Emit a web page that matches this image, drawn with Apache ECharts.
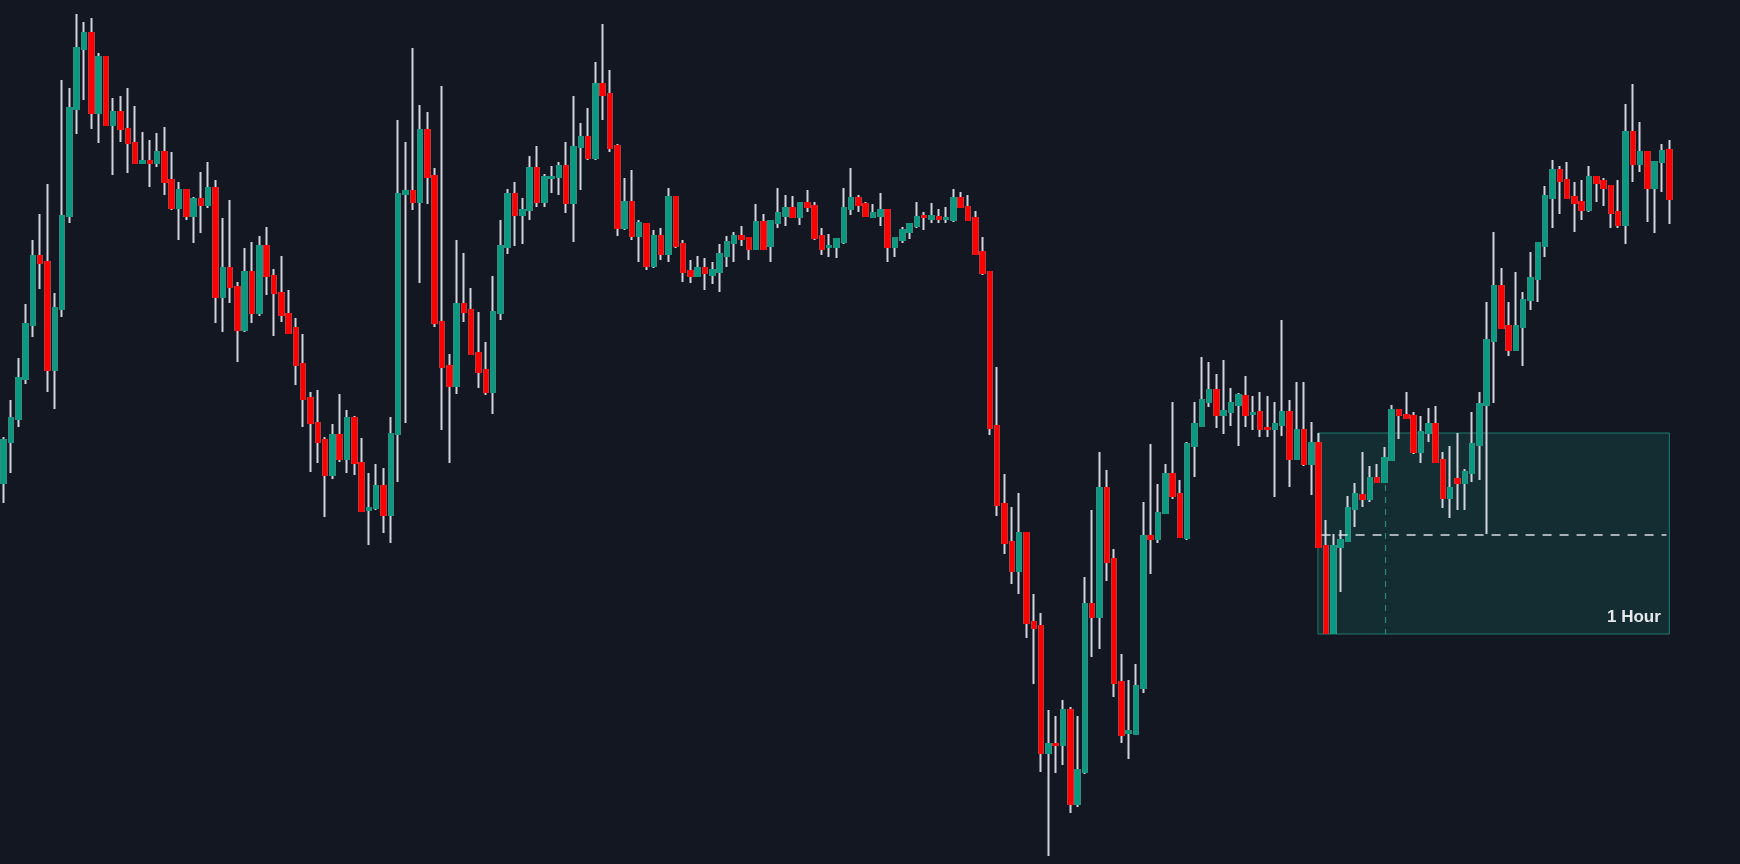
<!DOCTYPE html>
<html>
<head>
<meta charset="utf-8">
<style>
html,body{margin:0;padding:0;background:#131722;}
#chart{width:1740px;height:864px;}
</style>
<script src="https://cdn.jsdelivr.net/npm/echarts@6/dist/echarts.min.js"></script>
</head>
<body>
<div id="chart"></div>
<script>
// Candle values (arbitrary price units)
const opens = [
381,422,445,485,539,608,602,494,555,648, 755,815,831,751,807,739,752,735,721,701,
703,701,712,684,656,674,648,665,659,676, 567,596,577,534,592,551,618,588,571,550,
536,500,466,441,424,389,429,405,446,401, 354,356,378,349,430,670,673,662,734,688,
542,498,478,560,554,511,494,472,551,617, 670,649,654,696,662,686,687,698,661,717,
727,706,780,770,718,636,662,628,640,598, 628,610,667,620,593,588,596,589,592,608,
621,628,626,615,642,618,641,648,656,647, 661,658,628,617,617,622,655,666,660,647,
648,654,617,624,632,638,648,645,647,645, 644,666,657,646,612,592,438,360,322,293,
331,242,238,111,120,119,154,60,92,260, 247,376,305,182,131,130,176,328,325,351,
390,370,326,418,438,462,474,449,452,459, 468,450,452,436,435,439,452,405,434,400,
421,318,231,317,323,355,369,365,386,382, 404,454,449,448,412,431,440,404,366,385,
381,391,419,459,523,578,538,514,537,564, 585,618,666,694,684,667,662,654,687,683,
678,652,639,732,700,712,676,702,714
];
const closes = [
424,446,486,540,608,601,494,556,648,756, 816,831,751,807,739,752,735,721,701,703,
701,712,682,656,674,648,665,659,676,567, 596,577,534,592,551,618,588,571,549,531,
499,465,441,422,389,429,405,446,401,353, 356,378,349,430,670,673,662,734,687,541,
497,478,560,552,510,492,472,552,618,670, 649,654,696,662,687,687,698,661,717,727,
706,780,769,716,636,662,628,641,598,628, 610,667,618,592,588,596,591,594,610,622,
628,625,615,642,615,643,651,656,647,661, 657,626,615,618,625,656,666,659,648,651,
654,617,626,634,640,647,647,648,645,646, 666,657,644,610,591,436,359,321,293,331,
241,236,111,120,119,154,60,94,260,247, 376,302,181,129,133,178,328,325,351,390,
368,327,420,440,464,474,449,453,461,469, 449,451,435,435,440,452,405,434,400,421,
317,231,318,324,356,370,365,386,382,406, 454,449,446,412,432,440,402,366,376,381,
392,420,460,524,578,536,514,538,564,586, 621,668,694,683,666,661,654,687,681,676,
651,639,732,700,712,676,702,713,665
];
const lows = [
361,391,437,480,527,575,472,455,547,641, 730,764,735,721,739,689,722,691,701,700,
677,697,669,654,624,644,621,631,656,541, 532,561,502,532,541,548,569,528,542,530,
479,437,392,401,347,385,402,391,389,353, 319,354,331,321,382,441,654,581,660,537,
434,401,470,542,510,476,469,450,544,610, 618,620,644,657,657,671,669,651,622,674,
704,704,744,712,628,634,624,602,594,596, 604,602,616,582,581,587,574,580,572,597,
602,618,604,614,614,602,636,638,646,639, 652,624,609,607,606,620,649,652,647,646,
638,602,607,621,625,636,634,641,641,641, 642,656,644,610,589,429,348,310,280,270,
226,180,92,8,91,99,51,57,90,207, 215,283,167,121,105,129,171,290,321,350,
365,327,324,387,437,457,436,430,438,418, 437,434,427,427,367,428,377,404,398,369,
316,230,230,272,322,337,357,362,381,381, 403,425,445,410,401,422,401,356,346,354,
354,382,384,330,461,535,508,513,498,554, 562,607,636,650,666,632,644,652,662,658,
636,636,620,682,692,642,631,672,640
];
const highs = [
427,464,506,560,624,650,680,571,784,776, 850,842,846,811,807,766,768,776,758,732,
724,731,737,712,682,674,667,692,702,684, 646,664,582,616,622,628,637,595,608,574,
546,530,472,474,427,440,470,454,448,426, 391,400,396,447,744,722,816,759,752,696,
778,510,624,611,576,552,522,588,644,675, 682,666,708,718,690,698,702,722,768,741,
756,802,840,794,720,686,694,644,641,634, 636,676,667,624,604,608,606,602,620,628,
632,638,626,660,650,644,676,669,668,662, 674,662,636,630,626,676,696,669,662,660,
671,655,627,637,641,662,652,661,655,657, 675,672,669,653,627,593,497,390,357,371,
332,270,251,154,148,164,157,148,287,354, 412,394,315,210,184,200,362,420,380,400,
462,384,422,462,507,502,490,504,476,471, 488,468,472,468,462,544,464,482,482,442,
431,344,330,334,368,381,412,398,400,417, 459,455,472,452,448,456,458,412,418,431,
395,452,472,562,632,596,562,592,572,612, 622,678,704,698,702,682,684,698,688,686,
679,684,760,780,742,713,703,720,724
];
// Annotation values (candle index units / price units)
const boxStart = 179.9, boxEnd = 228.0, boxTop = 431, boxBottom = 230;
const levelPrice = 329, levelStart = 180.4, levelEnd = 227.6;
const markerIndex = 189.1, markerTop = 379;
const boxLabel = '1 Hour';

const N = opens.length;
const categories = opens.map((_, i) => 'C' + (i + 1));
const fullData = opens.map((o, i) => [o, closes[i], lows[i], highs[i]]);
const bodyData = opens.map((o, i) => [o, closes[i], Math.min(o, closes[i]), Math.max(o, closes[i])]);

const UP = '#089981', DOWN = '#ff0000', WICK = '#d1d4dc';

const chart = echarts.init(document.getElementById('chart'), null, {renderer: 'canvas'});
chart.setOption({
  backgroundColor: '#131722',
  animation: false,
  grid: {left: -1, right: 67, top: 0, bottom: 0},
  xAxis: [
    {type: 'category', data: categories, show: false, boundaryGap: true},
    {type: 'value', min: -0.5, max: N - 0.5, show: false}
  ],
  yAxis: {type: 'value', min: 0, max: 864, show: false},
  series: [
    {
      type: 'line', xAxisIndex: 1, data: [[boxStart, boxBottom]], symbol: 'none',
      lineStyle: {opacity: 0}, silent: true, z: 1,
      markArea: {
        silent: true,
        itemStyle: {color: 'rgba(24,150,130,0.18)', borderColor: '#1d7d6d', borderWidth: 1},
        label: {show: false},
        data: [[{coord: [boxStart, boxTop]}, {coord: [boxEnd, boxBottom]}]]
      },
      markLine: {
        silent: true, symbol: 'none', label: {show: false},
        data: [
          [{coord: [markerIndex, markerTop], lineStyle: {color: '#1f8a75', width: 1.2, type: [6, 6]}},
           {coord: [markerIndex, boxBottom]}]
        ]
      }
    },
    {
      type: 'candlestick', data: fullData, barWidth: 4, z: 2,
      itemStyle: {color: 'transparent', color0: 'transparent', borderColor: WICK, borderColor0: WICK, borderWidth: 2}
    },
    {
      type: 'candlestick', data: bodyData, barWidth: 4, z: 3,
      itemStyle: {color: UP, color0: DOWN, borderColor: UP, borderColor0: DOWN, borderWidth: 2}
    },
    {
      type: 'line', xAxisIndex: 1, data: [[levelStart, levelPrice]], symbol: 'none',
      lineStyle: {opacity: 0}, silent: true, z: 4,
      markLine: {
        silent: true, symbol: 'none', label: {show: false},
        lineStyle: {color: '#d8dbe0', width: 1.5, type: [9, 8]},
        data: [[{coord: [levelStart, levelPrice]}, {coord: [levelEnd, levelPrice]}]]
      }
    },
    {
      type: 'scatter', xAxisIndex: 1, silent: true, z: 5,
      symbol: 'rect', symbolSize: 1, itemStyle: {color: 'rgba(0,0,0,0)'},
      data: [[boxEnd, boxBottom]],
      label: {
        show: true, formatter: boxLabel, position: 'left', align: 'right', verticalAlign: 'bottom',
        distance: 5, offset: [-3, -8], color: '#e6e8ec', opacity: 1, fontWeight: 'bold', fontSize: 17,
        fontFamily: 'Liberation Sans, Arial, sans-serif'
      }
    }
  ]
});
</script>
</body>
</html>
